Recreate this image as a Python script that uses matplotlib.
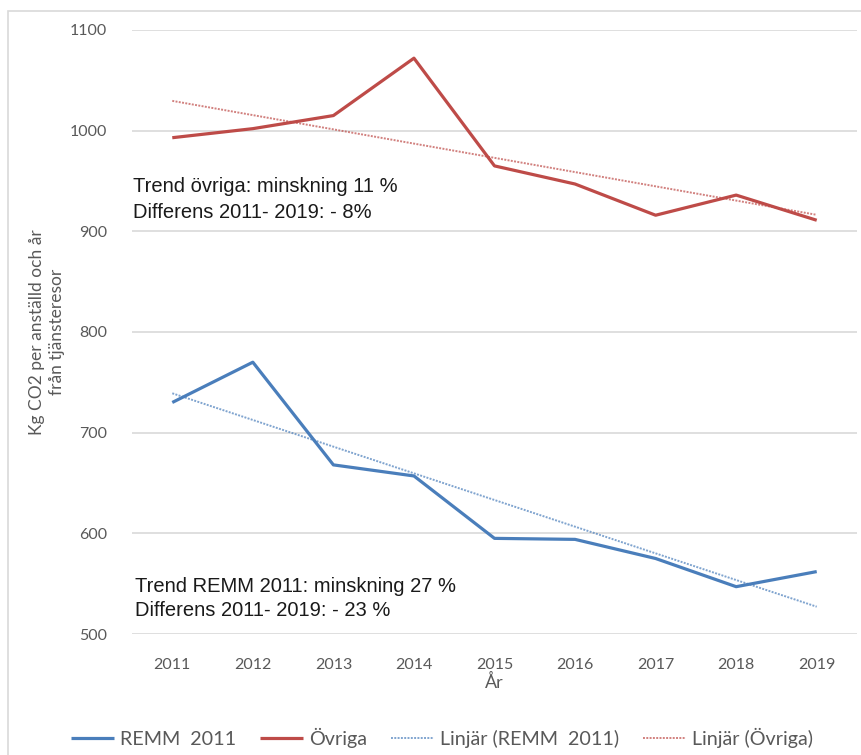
import numpy as np
import matplotlib.pyplot as plt
from matplotlib.patches import Rectangle

years = [2011, 2012, 2013, 2014, 2015, 2016, 2017, 2018, 2019]
remm = [730, 770, 668, 657, 595, 594, 575, 547, 562]
ovriga = [993, 1002, 1015, 1072, 965, 947, 916, 936, 911]
yticks = [500, 600, 700, 800, 900, 1000, 1100]

blue = '#4a7ebb'
red = '#be4b48'
grey = '#595959'

W, H = 862, 755
fig = plt.figure(figsize=(W / 100, H / 100), dpi=100)
ax = fig.add_axes([132 / W, 1 - 634 / H, (857 - 132) / W, (634 - 30) / H])

x = np.arange(len(years))
ax.plot(x, remm, color=blue, lw=2.3, label='REMM  2011', solid_capstyle='butt')
ax.plot(x, ovriga, color=red, lw=2.3, label='Övriga', solid_capstyle='butt')

# Excel linear trendlines
for vals, col, name in [(remm, blue, 'Linjär (REMM  2011)'), (ovriga, red, 'Linjär (Övriga)')]:
    k, m = np.polyfit(x, vals, 1)
    ax.plot(x, k * x + m, color=col, lw=1.4, ls=(0, (1.0, 0.7)), alpha=0.7, label=name)

ax.set_xlim(-0.5, len(years) - 0.5)
ax.set_ylim(500, 1100)
ax.set_yticks(yticks)
ax.set_xticks(x)
ax.set_xticklabels([str(y) for y in years])
ax.grid(axis='y', color='#d9d9d9', lw=1.2)
ax.set_axisbelow(True)
for s in ax.spines.values():
    s.set_visible(False)
ax.tick_params(length=0, colors=grey, labelsize=11.5)
ax.tick_params(axis='y', pad=18)
ax.tick_params(axis='x', pad=17)
for lab in ax.get_xticklabels() + ax.get_yticklabels():
    lab.set_fontfamily('Lato')

ax.set_xlabel('År', color=grey, fontsize=13, family='Lato', labelpad=2)
fig.text(47 / W, 1 - 332 / H, 'Kg CO2 per anställd och år\nfrån tjänsteresor', rotation=90,
         ha='center', va='center', color=grey, fontsize=12.5, family='Lato', linespacing=1.3)

ann = dict(fontsize=14.5, family='Liberation Sans', color='#1a1a1a', va='center', ha='left')
fig.text(133 / W, 1 - 186 / H, 'Trend övriga: minskning 11 %', **ann)
fig.text(133 / W, 1 - 212 / H, 'Differens 2011- 2019: - 8%', **ann)
fig.text(135 / W, 1 - 587 / H, 'Trend REMM 2011: minskning 27 %', **ann)
fig.text(135 / W, 1 - 611 / H, 'Differens 2011- 2019: - 23 %', **ann)

leg = ax.legend(loc='center', bbox_to_anchor=(442 / W, 1 - 738 / H), bbox_transform=fig.transFigure,
                ncol=4, frameon=False, handlelength=2.2, handletextpad=0.3, columnspacing=1.2,
                prop={'family': 'Lato', 'size': 14.2})
for t in leg.get_texts():
    t.set_color(grey)

fig.patches.append(Rectangle((8 / W, -0.1), 1.2, 1 - 11 / H + 0.1, transform=fig.transFigure,
                             fill=False, edgecolor='#d9d9d9', lw=1.2))

fig.savefig('out.png', dpi=100)
